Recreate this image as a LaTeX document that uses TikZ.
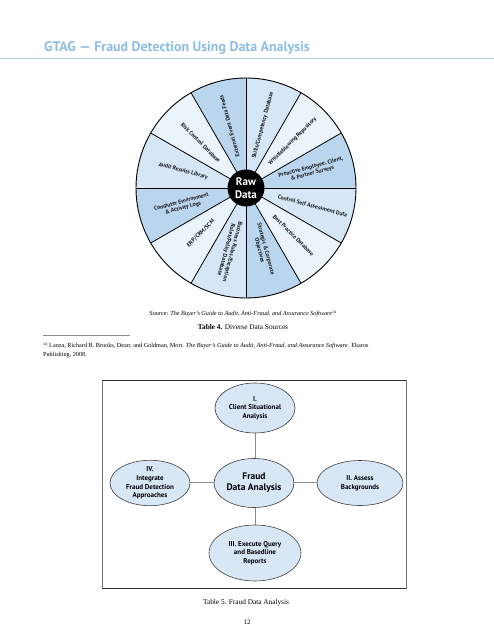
\documentclass[tikz,border=0pt]{standalone}
\usepackage{fontspec}
\setmainfont{Liberation Serif}
\setsansfont{PT Sans}
\usetikzlibrary{shapes.geometric}
\definecolor{titleblue}{HTML}{8DBEE6}
\definecolor{ruleblue}{HTML}{A9CCEB}
\definecolor{wdark}{HTML}{BAD6EF}
\definecolor{wmid}{HTML}{D5E6F6}
\definecolor{wlight}{HTML}{EBF3FB}
\definecolor{ellfill}{HTML}{D7E7F6}
\definecolor{connc}{HTML}{8A8A8A}
\tikzset{
  wlabel/.style={inner sep=0pt, align=center, text=black!90,
    font=\fontsize{5.7}{6.4}\selectfont\sffamily\bfseries},
  ell/.style={ellipse, draw=black!75, line width=0.6pt, fill=ellfill, inner sep=0pt,
    align=center, font=\fontsize{7}{8.6}\selectfont\sffamily\bfseries},
  conn/.style={draw=connc, line width=1pt},
  serifsmall/.style={inner sep=0pt, font=\fontsize{6.2}{7.5}\selectfont}
}
\begin{document}
\begin{tikzpicture}[x=1pt,y=1pt]
\useasboundingbox (0,0) rectangle (494,640);
\fill[white] (0,0) rectangle (494,640);
% header
\node[anchor=base west, inner sep=0pt, text=titleblue,
  font=\fontsize{13.9}{15}\selectfont\sffamily\bfseries] (title) at (44,588)
  {GTAG — Fraud Detection Using Data Analysis};
\coordinate (hrL) at (0,582);
\coordinate (hrR) at (494,582);
\draw[ruleblue, line width=0.8pt] (hrL) -- (hrR);
% wheel
\coordinate (W) at (246,452);
\foreach \i/\c in {0/wmid,1/wlight,2/wdark,3/wmid,4/wlight,5/wdark,6/wmid,7/wlight,8/wdark,9/wmid,10/wlight,11/wdark}{
  \pgfmathsetmacro\a{90-30*\i}
  \pgfmathsetmacro\b{60-30*\i}
  \fill[\c] (W) -- ([shift={(\a:110)}]W) arc[start angle=\a, end angle=\b, radius=110] -- cycle;
}
\foreach \a in {0,30,...,330}{
  \draw[black, line width=0.8pt] (W) -- ([shift={(\a:110)}]W);
}
\draw[black, line width=0.9pt] (W) circle[radius=110];
\node[circle, fill=black, minimum size=37pt, inner sep=0pt, text=white, align=center,
  font=\fontsize{11}{12.5}\selectfont\sffamily\bfseries] (raw) at (W) {Raw\\Data};
% wheel labels
\node[wlabel, rotate=75]   (l1)  at ([shift={(75:65)}]W)   {Skills/Competency Database};
\node[wlabel, rotate=45]   (l2)  at ([shift={(45:66)}]W)   {Whistleblowing Repository};
\node[wlabel, rotate=15]   (l3)  at ([shift={(15:68)}]W)   {Proactive Employee, Client,\\ \& Partner Surveys};
\node[wlabel, rotate=-15]  (l4)  at ([shift={(-15:69)}]W)  {Control Self Assessment Data};
\node[wlabel, rotate=-45]  (l5)  at ([shift={(-45:67)}]W)  {Best Practice Database};
\node[wlabel, rotate=-75]  (l6)  at ([shift={(-75:64)}]W)  {Strategic \& Corporate\\Objectives};
\node[wlabel, rotate=-105] (l7)  at ([shift={(-105:65)}]W) {Business Rules/Exception\\Rules/Policy Database};
\node[wlabel, rotate=45]   (l8)  at ([shift={(-135:64)}]W) {ERP/CRM/SCM};
\node[wlabel, rotate=15]   (l9)  at ([shift={(-165:66)}]W) {Computer Environment\\\& Activity Logs};
\node[wlabel, rotate=-15]  (l10) at ([shift={(165:65)}]W)  {Audit Results Library};
\node[wlabel, rotate=-45]  (l11) at ([shift={(135:64)}]W)  {Risk Control Database};
\node[wlabel, rotate=105]  (l12) at ([shift={(105:64)}]W)  {External Event Data Feeds};
% captions
\node[serifsmall, anchor=base] (src) at (243,324)
  {Source: \textit{The Buyer’s Guide to Audit, Anti-Fraud, and Assurance Software}\textsuperscript{\fontsize{4}{4}\selectfont 14}};
\node[inner sep=0pt, anchor=base, font=\fontsize{7.3}{9}\selectfont] (tab4) at (243,310)
  {\textbf{Table 4.} Diverse Data Sources};
\coordinate (fnL) at (43,305);
\coordinate (fnR) at (130,305);
\draw[black!45, line width=0.8pt] (fnL) -- (fnR);
\node[serifsmall, anchor=base west] (fn1) at (43,292)
  {\textsuperscript{\fontsize{4}{4}\selectfont 14} Lanza, Richard B. Brooks, Dean; and Goldman, Mort. \textit{The Buyer’s Guide to Audit, Anti-Fraud, and Assurance Software}. Ekaros};
\node[serifsmall, anchor=base west] (fn2) at (43,283) {Publishing, 2008.};
% box
\draw[black!55, line width=0.9pt] (102,52) rectangle (406,260);
\draw[black!80, line width=0.9pt] (102,260) -- (406,260) (102,52) -- (406,52);
% ellipses
\node[ell, minimum width=80pt, minimum height=50pt] (top) at (255,232) {I.\\Client Situational\\Analysis};
\node[ell, minimum width=80pt, minimum height=49pt, font=\fontsize{9.5}{11}\selectfont\sffamily\bfseries] (ctr) at (254,157) {Fraud\\Data Analysis};
\node[ell, minimum width=80pt, minimum height=45pt] (left) at (150,157) {IV.\\Integrate\\Fraud Detection\\Approaches};
\node[ell, minimum width=86pt, minimum height=45pt] (right) at (360,157) {II. Assess\\Backgrounds};
\node[ell, minimum width=92pt, minimum height=56pt] (bot) at (255,87) {III. Execute Query\\and Basedline\\Reports};
\draw[conn] (top) -- (top|-ctr.north);
\draw[conn] (left) -- (ctr);
\draw[conn] (ctr) -- (right);
\draw[conn] (ctr.south-|bot) -- (bot);
% bottom captions
\node[inner sep=0pt, anchor=base, font=\fontsize{7.3}{9}\selectfont] (tab5) at (246,35)
  {Table 5. Fraud Data Analysis};
\node[inner sep=0pt, anchor=base, font=\fontsize{7}{9}\selectfont] (pg) at (247,15) {12};
\end{tikzpicture}
\end{document}
